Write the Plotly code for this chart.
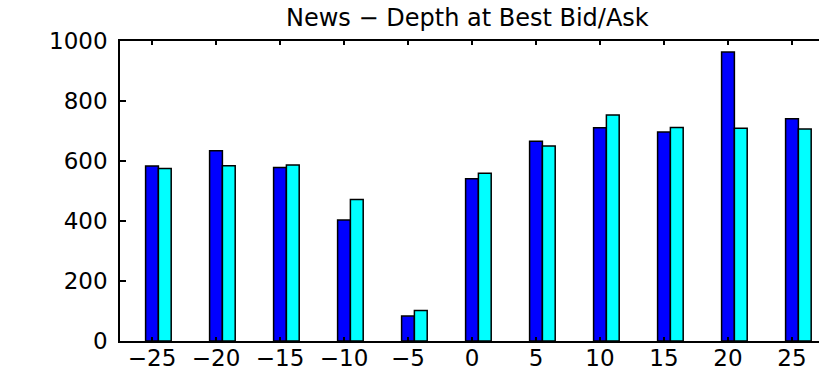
import plotly.graph_objects as go

lags = [-25, -20, -15, -10, -5, 0, 5, 10, 15, 20, 25]
bid_depth = [583, 634, 578, 403, 83, 541, 666, 711, 697, 963, 741]
ask_depth = [575, 584, 587, 472, 102, 559, 650, 753, 712, 709, 707]
y_ticks = [0, 200, 400, 600, 800, 1000]

FONT = "DejaVu Sans"

fig = go.Figure()
fig.add_trace(go.Bar(x=lags, y=bid_depth, name="Bid", width=1, offset=-0.5,
                     marker=dict(color="#0000FF", line=dict(color="black", width=1.5))))
fig.add_trace(go.Bar(x=lags, y=ask_depth, name="Ask", width=1, offset=0.5,
                     marker=dict(color="#00FFFF", line=dict(color="black", width=1.5))))

fig.update_layout(
    width=819, height=371,
    margin=dict(l=120, r=0, t=41, b=30, autoexpand=False),
    paper_bgcolor="white", plot_bgcolor="white",
    barmode="overlay", showlegend=False,
    font=dict(family=FONT, size=23, color="black"),
    title=dict(text="News \u2212 Depth at Best Bid/Ask", xref="paper", x=0.497, xanchor="center",
               yref="container", y=0.952, yanchor="middle",
               font=dict(family=FONT, size=24, color="black")),
    xaxis=dict(range=[-27.5, 27.11], tickvals=lags, ticks="inside", ticklen=4,
               tickwidth=1.5, tickcolor="black", showline=True, linecolor="black",
               linewidth=1.5, mirror="ticks", showgrid=False, zeroline=False,
               automargin=False, ticklabelstandoff=-4,
               tickfont=dict(family=FONT, size=23, color="black")),
    yaxis=dict(range=[0, 1000], tickvals=y_ticks, ticks="inside", ticklen=6,
               tickwidth=1.5, tickcolor="black", showline=True, linecolor="black",
               linewidth=1.5, mirror=False, showgrid=False, zeroline=False,
               ticklabelstandoff=6, automargin=False,
               tickfont=dict(family=FONT, size=23, color="black")),
    yaxis2=dict(range=[0, 1000], tickvals=y_ticks, overlaying="y", side="right",
                anchor="free", position=1, shift=5, autoshift=False, automargin=False,
                ticks="inside", ticklen=7, tickwidth=1.5, tickcolor="black",
                showline=False, showgrid=False, zeroline=False, showticklabels=False),
)

fig.write_html("out.html", config={"displayModeBar": False},
               post_script="document.body.style.margin='0';document.body.style.overflow='hidden';")
